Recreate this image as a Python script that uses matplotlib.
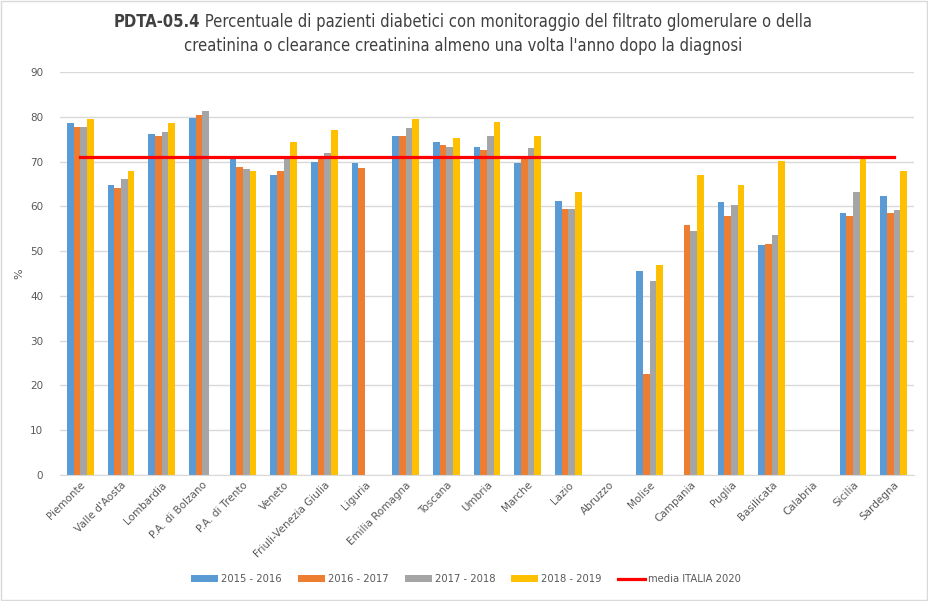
import numpy as np
import matplotlib.pyplot as plt
from matplotlib.patches import Rectangle

# Dati
regioni = ["Piemonte", "Valle d'Aosta", "Lombardia", "P.A. di Bolzano", "P.A. di Trento",
           "Veneto", "Friuli-Venezia Giulia", "Liguria", "Emilia Romagna", "Toscana",
           "Umbria", "Marche", "Lazio", "Abruzzo", "Molise", "Campania", "Puglia",
           "Basilicata", "Calabria", "Sicilia", "Sardegna"]
nan = np.nan
v2015 = [78.7, 64.7, 76.2, 79.8, 70.7, 67.1, 69.8, 69.6, 75.6, 74.3,
         73.2, 69.6, 61.1, nan, 45.5, nan, 61.0, 51.3, nan, 58.4, 62.4]
v2016 = [77.8, 64.0, 75.8, 80.5, 68.7, 68.0, 70.5, 68.5, 75.6, 73.7,
         72.6, 70.9, 59.5, nan, 22.5, 55.8, 57.9, 51.6, nan, 57.9, 58.4]
v2017 = [77.8, 66.0, 76.5, 81.4, 68.3, 70.8, 71.9, nan, 77.6, 73.2,
         75.8, 73.0, 59.5, nan, 43.3, 54.5, 60.3, 53.6, nan, 63.3, 59.1]
v2018 = [79.4, 68.0, 78.7, nan, 67.8, 74.3, 77.1, nan, 79.4, 75.3,
         78.9, 75.8, 63.1, nan, 46.8, 66.9, 64.7, 70.1, nan, 70.6, 67.8]
media_italia = 71.0

serie = [("2015 - 2016", v2015, "#5B9BD5"),
         ("2016 - 2017", v2016, "#ED7D31"),
         ("2017 - 2018", v2017, "#A5A5A5"),
         ("2018 - 2019", v2018, "#FFC000")]

fig = plt.figure(figsize=(9.29, 6.01), dpi=100)
ax = fig.add_axes([60 / 929, 126 / 601, 854 / 929, 403 / 601])

n = len(regioni)
x = np.arange(n)
w = 0.165
handles = []
for i, (lab, vals, col) in enumerate(serie):
    h = ax.bar(x + (i - 1.5) * w, vals, w, color=col, label=lab, zorder=2)
    handles.append(h)

linea, = ax.plot([0, n - 1], [media_italia, media_italia], color="#FF0000", lw=2.3,
                 label="media ITALIA 2020", zorder=3)
handles.append(linea)

ax.set_xlim(-0.5, n - 0.5)
ax.set_ylim(0, 90)
ax.set_yticks(range(0, 91, 10))
ax.yaxis.grid(True, color="#D9D9D9", lw=1, zorder=0)
for s in ["top", "right", "left"]:
    ax.spines[s].set_visible(False)
ax.spines["bottom"].set_color("#D9D9D9")
ax.tick_params(axis="y", length=0, labelsize=7.5, labelcolor="#595959", pad=12)
ax.tick_params(axis="x", length=0, labelsize=7.5, labelcolor="#595959")
ax.set_xticks(x)
ax.set_xticklabels(regioni, rotation=45, ha="right", rotation_mode="anchor")
ax.set_ylabel("%", fontsize=8, color="#595959", labelpad=4)

# titolo (parte in grassetto + parte normale, centrate insieme)
tkw = dict(fontsize=11.9, color="#404040", va="center", family="DejaVu Sans",
           fontstretch="condensed")
riga1_b = "PDTA-05.4"
riga1 = " Percentuale di pazienti diabetici con monitoraggio del filtrato glomerulare o della"
riga2 = "creatinina o clearance creatinina almeno una volta l'anno dopo la diagnosi"
cx = 463 / 929
tb = fig.text(0, 1 - 22 / 601, riga1_b, fontweight="bold", ha="left", **tkw)
tr = fig.text(0, 1 - 22 / 601, riga1, ha="left", **tkw)
fig.text(cx, 1 - 46 / 601, riga2, ha="center", **tkw)
r = fig.canvas.get_renderer()
wb = tb.get_window_extent(r).width / fig.bbox.width
wr = tr.get_window_extent(r).width / fig.bbox.width
x0 = cx - (wb + wr) / 2
tb.set_x(x0)
tr.set_x(x0 + wb)

leg = fig.legend(handles=handles, loc="center", bbox_to_anchor=(466 / 929, 1 - 579 / 601),
                 ncol=5, frameon=False, fontsize=7.2, handlelength=2.7, handleheight=0.6,
                 columnspacing=1.6, handletextpad=0.3)
for t in leg.get_texts():
    t.set_color("#595959")

fig.patches.append(Rectangle((0.001, 0.001), 0.997, 0.997, transform=fig.transFigure,
                             fill=False, edgecolor="#D9D9D9", lw=1))

fig.savefig("out.png", dpi=100)
